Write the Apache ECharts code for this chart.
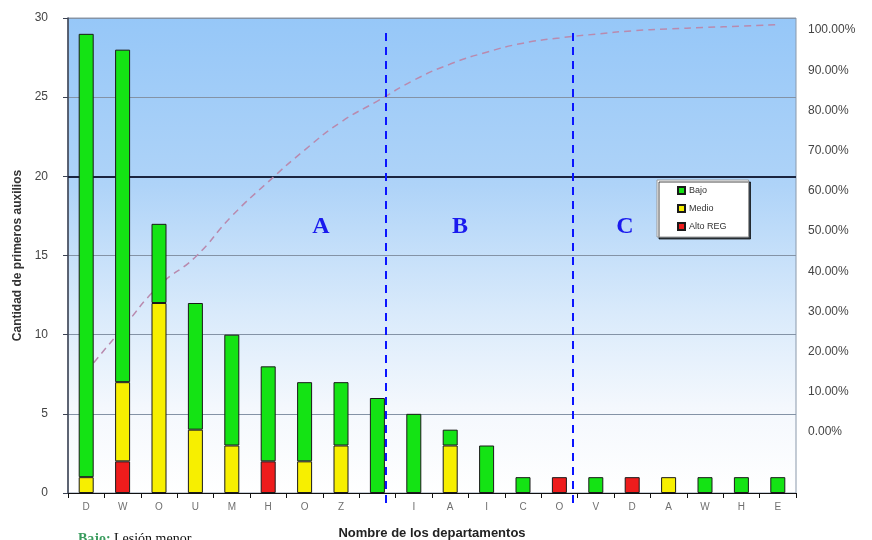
<!DOCTYPE html>
<html>
<head>
<meta charset="utf-8">
<script src="https://cdn.jsdelivr.net/npm/echarts@6/dist/echarts.min.js"></script>
<style>
  html, body { margin: 0; padding: 0; background: #ffffff; }
  #chart { width: 872px; height: 540px; }
</style>
</head>
<body>
<div id="chart"></div>
<script>
// Department codes along the category axis
const departamentos = ['D', 'W', 'O', 'U', 'M', 'H', 'O', 'Z', '', 'I', 'A', 'I', 'C', 'O', 'V', 'D', 'A', 'W', 'H', 'E'];

// First-aid counts per department, split by severity
const bajo  = [28, 21, 5, 8, 7, 6, 5, 4, 6, 5, 1, 3, 1, 0, 1, 0, 0, 1, 1, 1];
const medio = [1, 5, 12, 4, 3, 0, 2, 3, 0, 0, 3, 0, 0, 0, 0, 0, 1, 0, 0, 0];
const alto  = [0, 2, 0, 0, 0, 2, 0, 0, 0, 0, 0, 0, 0, 1, 0, 1, 0, 0, 0, 0];

// Cumulative share curve (percent)
const acumulado = [25.5, 34.7, 43.6, 49.7, 58.3, 65.5, 72.2, 78.1, 82.5, 86.9,
                   90.3, 92.8, 94.7, 95.8, 96.6, 97.3, 97.7, 98.0, 98.3, 98.6];

// Axis tick settings
const ejeCantidad = { min: 0, max: 30, interval: 5 };
const ejePorcentaje = { min: 0, max: 100, interval: 10 };
const lineaDestacada = 20;

// Zone labels of the Pareto split
const zonas = ['A', 'B', 'C'];

const sinCeros = arr => arr.map(v => (v === 0 ? null : v));
const borde = { borderColor: '#1a1a1a', borderWidth: 1 };

const chart = echarts.init(document.getElementById('chart'), null, { renderer: 'canvas' });

const option = {
  animation: false,
  backgroundColor: '#ffffff',
  textStyle: { fontFamily: '"Liberation Sans", Arial, sans-serif' },
  grid: [
    {
      left: 68, right: 76, top: 18, bottom: 47,
      outerBoundsMode: 'none',
      containLabel: false,
      show: true,
      borderColor: '#8a99ab',
      borderWidth: 1,
      backgroundColor: {
        type: 'linear', x: 0, y: 0, x2: 0, y2: 1,
        colorStops: [
          { offset: 0, color: '#96c7f8' },
          { offset: 0.35, color: '#aed3f8' },
          { offset: 0.62, color: '#d9eafb' },
          { offset: 0.82, color: '#f4f8fd' },
          { offset: 1, color: '#ffffff' }
        ]
      }
    },
    { left: 68, right: 76, top: 30, bottom: 108, outerBoundsMode: 'none', containLabel: false, show: false }
  ],
  legend: {
    data: ['Bajo', 'Medio', 'Alto REG'],
    orient: 'vertical',
    left: 657,
    top: 180,
    itemWidth: 7,
    itemHeight: 7,
    itemGap: 9,
    padding: [6, 22, 6, 20],
    backgroundColor: '#ffffff',
    borderColor: '#9a9a9a',
    borderWidth: 1,
    shadowColor: 'rgba(0,0,0,0.7)',
    shadowOffsetX: 2,
    shadowOffsetY: 2,
    shadowBlur: 0,
    icon: 'rect',
    textStyle: { fontSize: 9, color: '#333333', padding: [0, 0, 0, -1] }
  },
  xAxis: [
    {
      type: 'category',
      gridIndex: 0,
      data: departamentos,
      boundaryGap: true,
      axisLine: { lineStyle: { color: '#111111', width: 1 } },
      axisTick: { show: true, length: 5, alignWithLabel: false, lineStyle: { color: '#111111' } },
      axisLabel: { interval: 0, fontSize: 10, color: '#707070', margin: 9 },
      splitLine: { show: false },
      name: 'Nombre de los departamentos',
      nameLocation: 'middle',
      nameGap: 34,
      nameTextStyle: { fontSize: 13, fontWeight: 'bold', color: '#222222' }
    },
    { type: 'category', gridIndex: 1, data: departamentos, show: false }
  ],
  yAxis: [
    {
      type: 'value',
      gridIndex: 0,
      min: ejeCantidad.min, max: ejeCantidad.max, interval: ejeCantidad.interval,
      axisLine: { show: true, lineStyle: { color: '#3b4252', width: 1.5 } },
      axisTick: { show: true, length: 5, lineStyle: { color: '#3b4252' } },
      axisLabel: { fontSize: 12, color: '#444444', margin: 20 },
      splitLine: { show: true, lineStyle: { color: '#8493a6', width: 1 } },
      name: 'Cantidad de primeros auxilios',
      nameLocation: 'middle',
      nameGap: 44,
      nameTextStyle: { fontSize: 12, fontWeight: 'bold', color: '#333333' }
    },
    {
      type: 'value',
      gridIndex: 1,
      position: 'right',
      min: ejePorcentaje.min, max: ejePorcentaje.max, interval: ejePorcentaje.interval,
      axisLine: { show: false },
      axisTick: { show: false },
      splitLine: { show: false },
      axisLabel: {
        fontSize: 12, color: '#444444', margin: 12,
        formatter: v => v.toFixed(2) + '%'
      }
    },
    { type: 'value', gridIndex: 0, min: 0, max: 100, show: false }
  ],
  series: [
    {
      name: 'Acumulado',
      type: 'line',
      xAxisIndex: 0,
      yAxisIndex: 2,
      data: acumulado,
      smooth: true,
      symbol: 'none',
      z: 1,
      lineStyle: { color: '#b98aae', width: 1.5, type: [7, 5] }
    },
    {
      name: 'Alto REG',
      type: 'bar',
      stack: 'total',
      barWidth: 15,
      data: sinCeros(alto),
      itemStyle: Object.assign({ color: '#ee1c1c' }, borde),
      z: 3
    },
    {
      name: 'Medio',
      type: 'bar',
      stack: 'total',
      barWidth: 15,
      data: sinCeros(medio),
      itemStyle: Object.assign({ color: '#f7ef00' }, borde),
      z: 3
    },
    {
      name: 'Bajo',
      type: 'bar',
      stack: 'total',
      barWidth: 15,
      data: sinCeros(bajo),
      itemStyle: Object.assign({ color: '#14e314' }, borde),
      z: 3,
      markLine: {
        silent: true,
        symbol: 'none',
        z: 1,
        label: { show: false },
        lineStyle: { color: '#1b2540', width: 2, type: 'solid' },
        data: [{ yAxis: lineaDestacada }]
      }
    }
  ],
  graphic: [
    {
      type: 'line', z: 20,
      shape: { x1: 386, y1: 33, x2: 386, y2: 503 },
      style: { stroke: '#0a14ff', lineWidth: 2, lineDash: [8, 6] }
    },
    {
      type: 'line', z: 20,
      shape: { x1: 573, y1: 33, x2: 573, y2: 503 },
      style: { stroke: '#0a14ff', lineWidth: 2, lineDash: [8, 6] }
    },
    {
      type: 'text', z: 20, x: 321, y: 227,
      style: { text: zonas[0], font: 'bold 24px "Liberation Serif", serif', fill: '#1a1aee', align: 'center', verticalAlign: 'middle' }
    },
    {
      type: 'text', z: 20, x: 460, y: 227,
      style: { text: zonas[1], font: 'bold 24px "Liberation Serif", serif', fill: '#1a1aee', align: 'center', verticalAlign: 'middle' }
    },
    {
      type: 'text', z: 20, x: 625, y: 227,
      style: { text: zonas[2], font: 'bold 24px "Liberation Serif", serif', fill: '#1a1aee', align: 'center', verticalAlign: 'middle' }
    },
    {
      type: 'text', z: 20, x: 78, y: 532,
      style: {
        text: '{g|Bajo:} {k|Lesión menor}',
        verticalAlign: 'top',
        rich: {
          g: { font: 'bold 14px "Liberation Serif", serif', fill: '#3a9c5e' },
          k: { font: '14px "Liberation Serif", serif', fill: '#111111' }
        }
      }
    }
  ]
};

chart.setOption(option);
</script>
</body>
</html>
